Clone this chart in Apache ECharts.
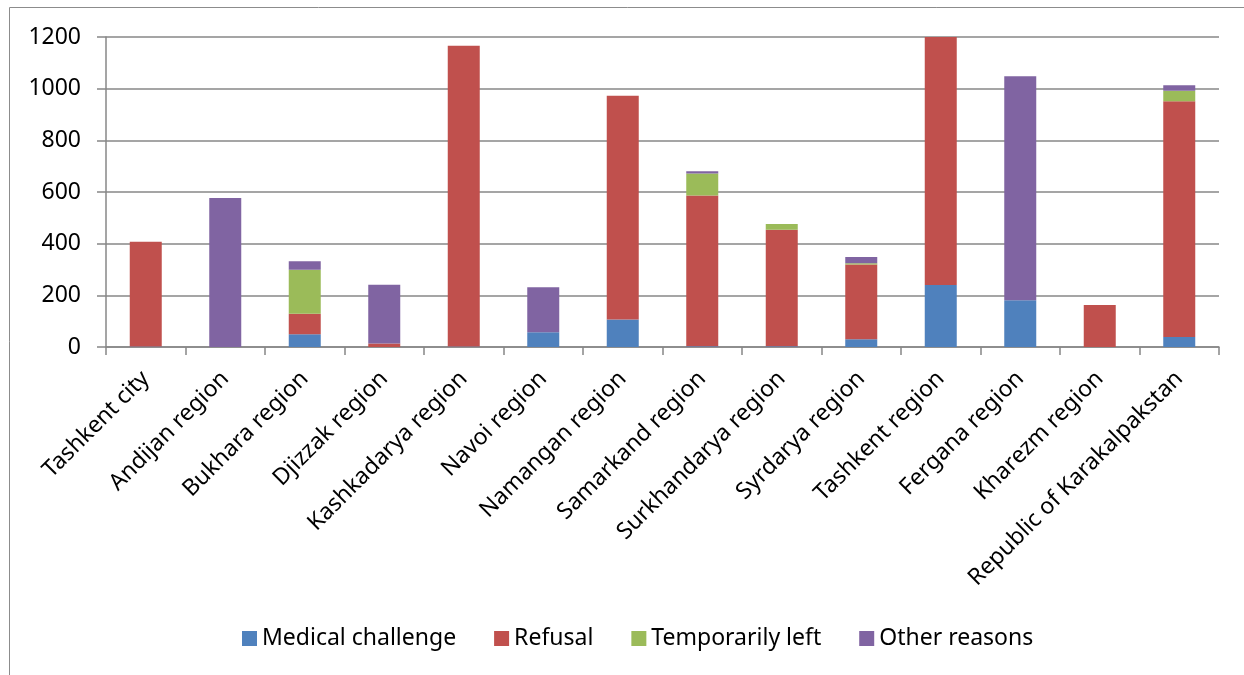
<!DOCTYPE html>
<html>
<head>
<meta charset="utf-8">
<script src="https://cdn.jsdelivr.net/npm/echarts@6/dist/echarts.min.js"></script>
<style>
  html, body { margin: 0; padding: 0; background: #fff; }
  #chart { width: 1244px; height: 675px; }
</style>
</head>
<body>
<div id="chart"></div>
<script>
// Regions of Uzbekistan
const categories = [
  'Tashkent city', 'Andijan region', 'Bukhara region', 'Djizzak region',
  'Kashkadarya region', 'Navoi region', 'Namangan region', 'Samarkand region',
  'Surkhandarya region', 'Syrdarya region', 'Tashkent region', 'Fergana region',
  'Kharezm region', 'Republic of Karakalpakstan'
];

// Counts by reason
const medicalChallenge = [2, 0, 49, 0, 2, 57, 106, 3, 3, 30, 240, 181, 0, 39];
const refusal          = [405, 0, 80, 14, 1164, 0, 867, 583, 451, 289, 960, 0, 163, 912];
const temporarilyLeft  = [0, 0, 170, 0, 0, 0, 0, 86, 22, 5, 0, 0, 0, 41];
const otherReasons     = [0, 577, 33, 227, 0, 174, 0, 8, 0, 24, 0, 867, 0, 21];

const seriesNames = ['Medical challenge', 'Refusal', 'Temporarily left', 'Other reasons'];
const seriesColors = ['#4F81BD', '#C0504D', '#9BBB59', '#8064A2'];
const seriesData = [medicalChallenge, refusal, temporarilyLeft, otherReasons];

const FONT = '"Noto Sans", "DejaVu Sans", sans-serif';
const GRID_COLOR = '#878787';

const chart = echarts.init(document.getElementById('chart'), null, { renderer: 'canvas' });

chart.setOption({
  backgroundColor: '#ffffff',
  animation: false,
  graphic: [{
    type: 'rect',
    shape: { x: 9.5, y: 7.5, width: 1300, height: 720 },
    style: { fill: 'none', stroke: '#8c8c8c', lineWidth: 1 },
    silent: true,
    z: -10
  }],
  grid: { left: 106, right: 25, top: 37, bottom: 328, containLabel: false },
  legend: {
    data: seriesNames,
    left: 237,
    top: 622,
    icon: 'rect',
    itemWidth: 15,
    itemHeight: 15,
    itemGap: 38,
    textStyle: { fontFamily: FONT, fontSize: 23, color: '#000' }
  },
  xAxis: {
    type: 'category',
    data: categories,
    axisLine: { show: true, lineStyle: { color: GRID_COLOR, width: 1.5 } },
    axisTick: { show: true, length: 8, lineStyle: { color: GRID_COLOR, width: 1.5 } },
    axisLabel: {
      interval: 0,
      rotate: 45,
      margin: 28,
      fontFamily: FONT,
      fontSize: 23,
      color: '#000'
    }
  },
  yAxis: {
    type: 'value',
    min: 0,
    max: 1200,
    interval: 200,
    axisLine: { show: true, lineStyle: { color: GRID_COLOR, width: 1.5 } },
    axisTick: { show: true, length: 9, lineStyle: { color: GRID_COLOR, width: 1.5 } },
    splitLine: { show: true, lineStyle: { color: GRID_COLOR, width: 1.5 } },
    axisLabel: {
      margin: 25,
      fontFamily: FONT,
      fontSize: 23,
      color: '#000',
      formatter: (v) => String(v)
    }
  },
  series: seriesNames.map((name, i) => ({
    name: name,
    type: 'bar',
    stack: 'total',
    barWidth: 32,
    data: seriesData[i],
    itemStyle: { color: seriesColors[i] }
  }))
});
</script>
</body>
</html>
